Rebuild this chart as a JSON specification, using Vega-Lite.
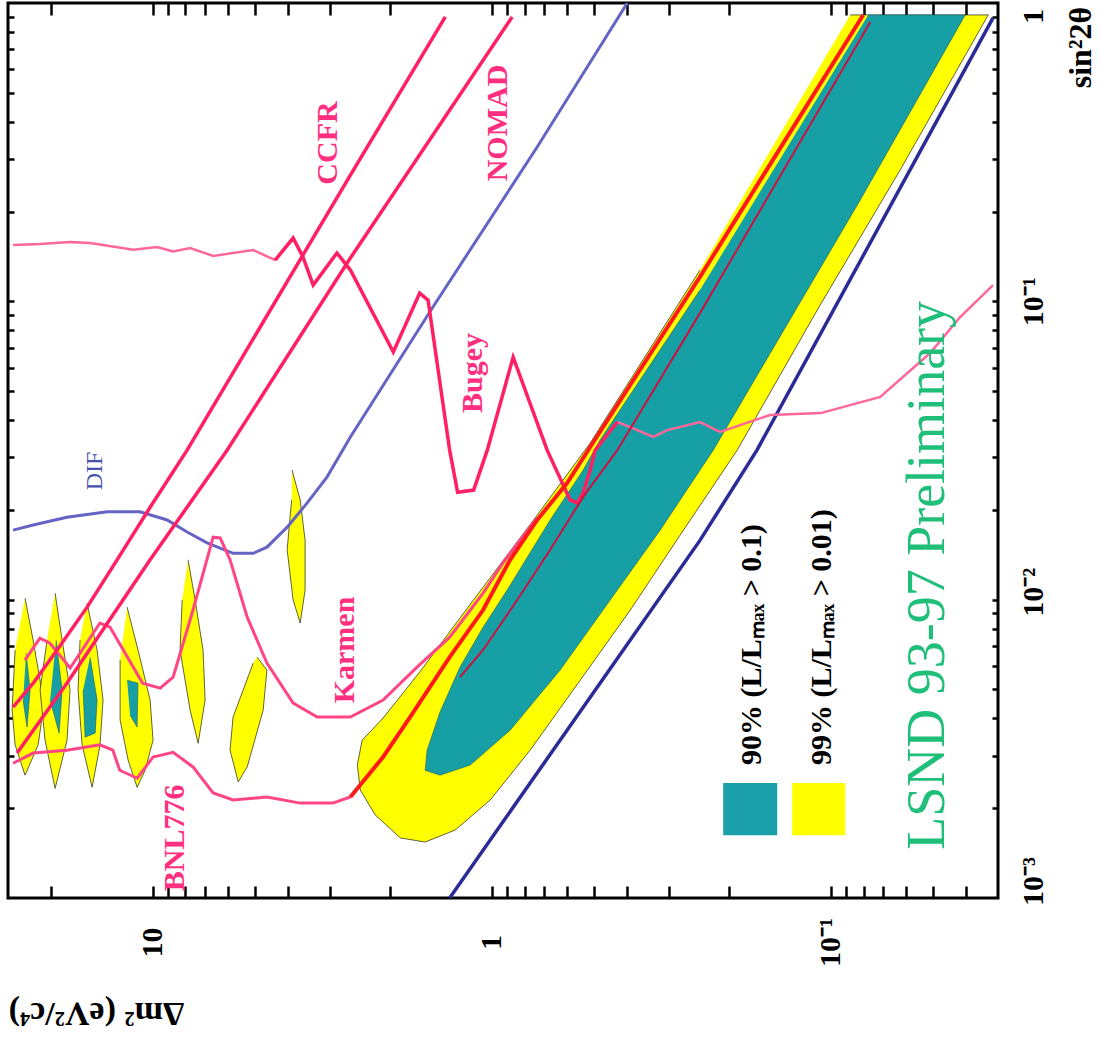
{
"$schema": "https://vega.github.io/schema/vega-lite/v6.json",
"width": 990, "height": 895,
"autosize": {"type": "none"},
"padding": {"left": 8, "top": 3, "right": 104, "bottom": 141},
"background": "white",
"config": {"view": {"stroke": "black", "strokeWidth": 3}},
"datasets": {
"regions": [
{"region":"band","kind":"y","i":1,"dm2":0.0876,"s":0.912},
{"region":"band","kind":"y","i":2,"dm2":0.0343,"s":0.912},
{"region":"band","kind":"y","i":3,"dm2":0.0624,"s":0.2755},
{"region":"band","kind":"y","i":4,"dm2":0.1074,"s":0.0972},
{"region":"band","kind":"y","i":5,"dm2":0.1887,"s":0.0317},
{"region":"band","kind":"y","i":6,"dm2":0.278,"s":0.01646},
{"region":"band","kind":"y","i":7,"dm2":0.390,"s":0.00923},
{"region":"band","kind":"y","i":8,"dm2":0.548,"s":0.00537},
{"region":"band","kind":"y","i":9,"dm2":0.770,"s":0.00313},
{"region":"band","kind":"y","i":10,"dm2":1.010,"s":0.00213},
{"region":"band","kind":"y","i":11,"dm2":1.281,"s":0.00169},
{"region":"band","kind":"y","i":12,"dm2":1.571,"s":0.00154},
{"region":"band","kind":"y","i":13,"dm2":1.86,"s":0.00159},
{"region":"band","kind":"y","i":14,"dm2":2.206,"s":0.0019},
{"region":"band","kind":"y","i":15,"dm2":2.44,"s":0.0023},
{"region":"band","kind":"y","i":16,"dm2":2.49,"s":0.00279},
{"region":"band","kind":"y","i":17,"dm2":2.41,"s":0.00338},
{"region":"band","kind":"y","i":18,"dm2":2.09,"s":0.00401},
{"region":"band","kind":"y","i":19,"dm2":1.63,"s":0.00572},
{"region":"band","kind":"y","i":20,"dm2":1.24,"s":0.00868},
{"region":"band","kind":"y","i":21,"dm2":0.900,"s":0.0141},
{"region":"band","kind":"y","i":22,"dm2":0.734,"s":0.0192},
{"region":"band","kind":"y","i":23,"dm2":0.512,"s":0.0335},
{"region":"band","kind":"y","i":24,"dm2":0.243,"s":0.1273},
{"region":"I1","kind":"y","i":1,"dm2":23.78,"s":0.01012},
{"region":"I1","kind":"y","i":2,"dm2":22.52,"s":0.00732},
{"region":"I1","kind":"y","i":3,"dm2":21.47,"s":0.00537},
{"region":"I1","kind":"y","i":4,"dm2":21.04,"s":0.00426},
{"region":"I1","kind":"y","i":5,"dm2":21.76,"s":0.00326},
{"region":"I1","kind":"y","i":6,"dm2":23.78,"s":0.00258},
{"region":"I1","kind":"y","i":7,"dm2":25.44,"s":0.00326},
{"region":"I1","kind":"y","i":8,"dm2":25.97,"s":0.00426},
{"region":"I1","kind":"y","i":9,"dm2":25.44,"s":0.00678},
{"region":"I2","kind":"y","i":1,"dm2":19.39,"s":0.01052},
{"region":"I2","kind":"y","i":2,"dm2":18.49,"s":0.00732},
{"region":"I2","kind":"y","i":3,"dm2":17.52,"s":0.00498},
{"region":"I2","kind":"y","i":4,"dm2":17.88,"s":0.00338},
{"region":"I2","kind":"y","i":5,"dm2":19.39,"s":0.00233},
{"region":"I2","kind":"y","i":6,"dm2":20.76,"s":0.00338},
{"region":"I2","kind":"y","i":7,"dm2":21.47,"s":0.00498},
{"region":"I2","kind":"y","i":8,"dm2":20.48,"s":0.00732},
{"region":"I3","kind":"y","i":1,"dm2":15.61,"s":0.00974},
{"region":"I3","kind":"y","i":2,"dm2":14.58,"s":0.00678},
{"region":"I3","kind":"y","i":3,"dm2":14.00,"s":0.00461},
{"region":"I3","kind":"y","i":4,"dm2":14.29,"s":0.00326},
{"region":"I3","kind":"y","i":5,"dm2":15.08,"s":0.00235},
{"region":"I3","kind":"y","i":6,"dm2":16.14,"s":0.00326},
{"region":"I3","kind":"y","i":7,"dm2":16.59,"s":0.00498},
{"region":"I3","kind":"y","i":8,"dm2":16.37,"s":0.00732},
{"region":"I4","kind":"y","i":1,"dm2":11.89,"s":0.00944},
{"region":"I4","kind":"y","i":2,"dm2":11.04,"s":0.00678},
{"region":"I4","kind":"y","i":3,"dm2":10.17,"s":0.00461},
{"region":"I4","kind":"y","i":4,"dm2":9.97,"s":0.00338},
{"region":"I4","kind":"y","i":5,"dm2":10.52,"s":0.00268},
{"region":"I4","kind":"y","i":6,"dm2":11.11,"s":0.00235},
{"region":"I4","kind":"y","i":7,"dm2":11.81,"s":0.0029},
{"region":"I4","kind":"y","i":8,"dm2":12.47,"s":0.00395},
{"region":"I4","kind":"y","i":9,"dm2":12.47,"s":0.00627},
{"region":"I5","kind":"y","i":1,"dm2":7.86,"s":0.0136},
{"region":"I5","kind":"y","i":2,"dm2":7.49,"s":0.00997},
{"region":"I5","kind":"y","i":3,"dm2":7.10,"s":0.00678},
{"region":"I5","kind":"y","i":4,"dm2":7.00,"s":0.00461},
{"region":"I5","kind":"y","i":5,"dm2":7.34,"s":0.0033},
{"region":"I5","kind":"y","i":6,"dm2":7.75,"s":0.00426},
{"region":"I5","kind":"y","i":7,"dm2":8.30,"s":0.00678},
{"region":"I5","kind":"y","i":8,"dm2":8.18,"s":0.00997},
{"region":"I6","kind":"y","i":1,"dm2":4.92,"s":0.00642},
{"region":"I6","kind":"y","i":2,"dm2":4.60,"s":0.00581},
{"region":"I6","kind":"y","i":3,"dm2":4.72,"s":0.00426},
{"region":"I6","kind":"y","i":4,"dm2":5.26,"s":0.00275},
{"region":"I6","kind":"y","i":5,"dm2":5.59,"s":0.00245},
{"region":"I6","kind":"y","i":6,"dm2":5.91,"s":0.00313},
{"region":"I6","kind":"y","i":7,"dm2":5.79,"s":0.00404},
{"region":"I6","kind":"y","i":8,"dm2":5.05,"s":0.00613},
{"region":"I7","kind":"y","i":1,"dm2":3.88,"s":0.0272},
{"region":"I7","kind":"y","i":2,"dm2":3.67,"s":0.0216},
{"region":"I7","kind":"y","i":3,"dm2":3.55,"s":0.0158},
{"region":"I7","kind":"y","i":4,"dm2":3.55,"s":0.01077},
{"region":"I7","kind":"y","i":5,"dm2":3.67,"s":0.00835},
{"region":"I7","kind":"y","i":6,"dm2":3.85,"s":0.00997},
{"region":"I7","kind":"y","i":7,"dm2":4.01,"s":0.0147},
{"region":"I7","kind":"y","i":8,"dm2":3.89,"s":0.0216},
{"region":"tband","kind":"t","i":1,"dm2":0.0775,"s":0.912},
{"region":"tband","kind":"t","i":2,"dm2":0.0401,"s":0.912},
{"region":"tband","kind":"t","i":3,"dm2":0.0818,"s":0.2186},
{"region":"tband","kind":"t","i":4,"dm2":0.222,"s":0.0317},
{"region":"tband","kind":"t","i":5,"dm2":0.3184,"s":0.0171},
{"region":"tband","kind":"t","i":6,"dm2":0.447,"s":0.00997},
{"region":"tband","kind":"t","i":7,"dm2":0.628,"s":0.00581},
{"region":"tband","kind":"t","i":8,"dm2":0.882,"s":0.00365},
{"region":"tband","kind":"t","i":9,"dm2":1.157,"s":0.00279},
{"region":"tband","kind":"t","i":10,"dm2":1.42,"s":0.00258},
{"region":"tband","kind":"t","i":11,"dm2":1.571,"s":0.00268},
{"region":"tband","kind":"t","i":12,"dm2":1.55,"s":0.00313},
{"region":"tband","kind":"t","i":13,"dm2":1.42,"s":0.0042},
{"region":"tband","kind":"t","i":14,"dm2":1.24,"s":0.00594},
{"region":"tband","kind":"t","i":15,"dm2":1.06,"s":0.00809},
{"region":"tband","kind":"t","i":16,"dm2":0.900,"s":0.01077},
{"region":"tband","kind":"t","i":17,"dm2":0.672,"s":0.0185},
{"region":"tband","kind":"t","i":18,"dm2":0.537,"s":0.0272},
{"region":"tband","kind":"t","i":19,"dm2":0.479,"s":0.0343},
{"region":"tband","kind":"t","i":20,"dm2":0.243,"s":0.1091},
{"region":"T1","kind":"t","i":1,"dm2":23.61,"s":0.00662},
{"region":"T1","kind":"t","i":2,"dm2":22.98,"s":0.00498},
{"region":"T1","kind":"t","i":3,"dm2":23.46,"s":0.00374},
{"region":"T1","kind":"t","i":4,"dm2":24.10,"s":0.00461},
{"region":"T2","kind":"t","i":1,"dm2":19.26,"s":0.00732},
{"region":"T2","kind":"t","i":2,"dm2":18.49,"s":0.00498},
{"region":"T2","kind":"t","i":3,"dm2":18.87,"s":0.00357},
{"region":"T2","kind":"t","i":4,"dm2":20.06,"s":0.00461},
{"region":"T3","kind":"t","i":1,"dm2":15.29,"s":0.00642},
{"region":"T3","kind":"t","i":2,"dm2":14.58,"s":0.00461},
{"region":"T3","kind":"t","i":3,"dm2":14.77,"s":0.00357},
{"region":"T3","kind":"t","i":4,"dm2":15.82,"s":0.00346},
{"region":"T3","kind":"t","i":5,"dm2":16.03,"s":0.00498},
{"region":"T4","kind":"t","i":1,"dm2":11.89,"s":0.00537},
{"region":"T4","kind":"t","i":2,"dm2":11.04,"s":0.00525},
{"region":"T4","kind":"t","i":3,"dm2":11.11,"s":0.00374},
{"region":"T4","kind":"t","i":4,"dm2":11.65,"s":0.0041}
],
"curves": [
{"curve":"Bugey flat","g":"light","i":0,"dm2":25.8,"s":0.1544},
{"curve":"Bugey flat","g":"light","i":1,"dm2":21.5,"s":0.1556},
{"curve":"Bugey flat","g":"light","i":2,"dm2":17.5,"s":0.1580},
{"curve":"Bugey flat","g":"light","i":3,"dm2":15.3,"s":0.1568},
{"curve":"Bugey flat","g":"light","i":4,"dm2":11.4,"s":0.1490},
{"curve":"Bugey flat","g":"light","i":5,"dm2":9.70,"s":0.1521},
{"curve":"Bugey flat","g":"light","i":6,"dm2":8.70,"s":0.1470},
{"curve":"Bugey flat","g":"light","i":7,"dm2":7.75,"s":0.1509},
{"curve":"Bugey flat","g":"light","i":8,"dm2":6.63,"s":0.1420},
{"curve":"Bugey flat","g":"light","i":9,"dm2":5.05,"s":0.1486},
{"curve":"Bugey flat","g":"light","i":10,"dm2":4.35,"s":0.1375},
{"curve":"Bugey","g":"red","i":10,"dm2":4.35,"s":0.1375},
{"curve":"Bugey","g":"red","i":11,"dm2":3.85,"s":0.163},
{"curve":"Bugey","g":"red","i":12,"dm2":3.60,"s":0.1407},
{"curve":"Bugey","g":"red","i":13,"dm2":3.36,"s":0.1134},
{"curve":"Bugey","g":"red","i":14,"dm2":2.86,"s":0.1452},
{"curve":"Bugey","g":"red","i":15,"dm2":2.61,"s":0.1273},
{"curve":"Bugey","g":"red","i":16,"dm2":1.95,"s":0.0676},
{"curve":"Bugey","g":"red","i":17,"dm2":1.63,"s":0.1066},
{"curve":"Bugey","g":"red","i":18,"dm2":1.54,"s":0.1010},
{"curve":"Bugey","g":"red","i":19,"dm2":1.33,"s":0.0317},
{"curve":"Bugey","g":"red","i":20,"dm2":1.26,"s":0.0229},
{"curve":"Bugey","g":"red","i":21,"dm2":1.13,"s":0.0233},
{"curve":"Bugey","g":"red","i":22,"dm2":1.03,"s":0.0317},
{"curve":"Bugey","g":"red","i":23,"dm2":0.864,"s":0.0650},
{"curve":"Bugey","g":"red","i":24,"dm2":0.686,"s":0.0317},
{"curve":"Bugey","g":"red","i":25,"dm2":0.587,"s":0.0216},
{"curve":"Bugey","g":"red","i":26,"dm2":0.559,"s":0.0211},
{"curve":"Bugey","g":"red","i":27,"dm2":0.537,"s":0.0228},
{"curve":"Bugey","g":"red","i":28,"dm2":0.512,"s":0.0272},
{"curve":"Bugey","g":"red","i":29,"dm2":0.495,"s":0.0317},
{"curve":"Bugey","g":"red","i":30,"dm2":0.426,"s":0.0394},
{"curve":"Bugey tail","g":"light","i":30,"dm2":0.426,"s":0.0394},
{"curve":"Bugey tail","g":"light","i":31,"dm2":0.390,"s":0.0379},
{"curve":"Bugey tail","g":"light","i":32,"dm2":0.334,"s":0.0351},
{"curve":"Bugey tail","g":"light","i":33,"dm2":0.303,"s":0.0370},
{"curve":"Bugey tail","g":"light","i":34,"dm2":0.243,"s":0.0394},
{"curve":"Bugey tail","g":"light","i":35,"dm2":0.212,"s":0.0365},
{"curve":"Bugey tail","g":"light","i":36,"dm2":0.151,"s":0.0416},
{"curve":"Bugey tail","g":"light","i":37,"dm2":0.107,"s":0.0422},
{"curve":"Bugey tail","g":"light","i":38,"dm2":0.0714,"s":0.0478},
{"curve":"Bugey tail","g":"light","i":39,"dm2":0.0509,"s":0.0671},
{"curve":"Bugey tail","g":"light","i":40,"dm2":0.0415,"s":0.0886},
{"curve":"Bugey tail","g":"light","i":41,"dm2":0.0332,"s":0.1134},
{"curve":"BNL776 flat","g":"pink","i":0,"dm2":25.8,"s":0.00283},
{"curve":"BNL776 flat","g":"pink","i":1,"dm2":22.5,"s":0.00306},
{"curve":"BNL776 flat","g":"pink","i":2,"dm2":17.9,"s":0.00313},
{"curve":"BNL776 flat","g":"pink","i":3,"dm2":14.3,"s":0.00326},
{"curve":"BNL776 flat","g":"pink","i":4,"dm2":13.1,"s":0.00313},
{"curve":"BNL776 flat","g":"pink","i":5,"dm2":12.5,"s":0.00268},
{"curve":"BNL776 flat","g":"pink","i":6,"dm2":11.1,"s":0.00252},
{"curve":"BNL776 flat","g":"pink","i":7,"dm2":9.97,"s":0.00297},
{"curve":"BNL776 flat","g":"pink","i":8,"dm2":8.70,"s":0.00308},
{"curve":"BNL776 flat","g":"pink","i":9,"dm2":7.60,"s":0.00275},
{"curve":"BNL776 flat","g":"pink","i":10,"dm2":6.63,"s":0.00225},
{"curve":"BNL776 flat","g":"pink","i":11,"dm2":5.79,"s":0.00213},
{"curve":"BNL776 flat","g":"pink","i":12,"dm2":4.60,"s":0.00218},
{"curve":"BNL776 flat","g":"pink","i":13,"dm2":3.67,"s":0.00208},
{"curve":"BNL776 flat","g":"pink","i":14,"dm2":2.94,"s":0.00208},
{"curve":"BNL776 flat","g":"pink","i":15,"dm2":2.61,"s":0.00218},
{"curve":"Karmen","g":"pink","i":0,"dm2":23.8,"s":0.00627},
{"curve":"Karmen","g":"pink","i":1,"dm2":21.5,"s":0.00743},
{"curve":"Karmen","g":"pink","i":2,"dm2":20.1,"s":0.00715},
{"curve":"Karmen","g":"pink","i":3,"dm2":17.5,"s":0.0059},
{"curve":"Karmen","g":"pink","i":4,"dm2":14.3,"s":0.00835},
{"curve":"Karmen","g":"pink","i":5,"dm2":13.35,"s":0.00809},
{"curve":"Karmen","g":"pink","i":6,"dm2":10.7,"s":0.00525},
{"curve":"Karmen","g":"pink","i":7,"dm2":9.50,"s":0.00505},
{"curve":"Karmen","g":"pink","i":8,"dm2":8.70,"s":0.0055},
{"curve":"Karmen","g":"pink","i":9,"dm2":7.60,"s":0.00923},
{"curve":"Karmen","g":"pink","i":10,"dm2":6.63,"s":0.0162},
{"curve":"Karmen","g":"pink","i":11,"dm2":6.32,"s":0.0161},
{"curve":"Karmen","g":"pink","i":12,"dm2":5.91,"s":0.0136},
{"curve":"Karmen","g":"pink","i":13,"dm2":5.26,"s":0.00874},
{"curve":"Karmen","g":"pink","i":14,"dm2":4.60,"s":0.00613},
{"curve":"Karmen","g":"pink","i":15,"dm2":3.85,"s":0.0045},
{"curve":"Karmen","g":"pink","i":16,"dm2":3.27,"s":0.00404},
{"curve":"Karmen","g":"pink","i":17,"dm2":2.61,"s":0.00404},
{"curve":"Karmen","g":"pink","i":18,"dm2":2.09,"s":0.00461},
{"curve":"Karmen","g":"pink","i":19,"dm2":1.66,"s":0.00594},
{"curve":"Karmen","g":"pink","i":20,"dm2":1.33,"s":0.00749},
{"curve":"Karmen","g":"pink","i":21,"dm2":1.06,"s":0.01052},
{"curve":"Karmen","g":"pink","i":22,"dm2":0.925,"s":0.0133},
{"curve":"Karmen","g":"pink","i":23,"dm2":0.734,"s":0.0188},
{"curve":"CCFR","g":"red","i":0,"dm2":1.37,"s":0.898},
{"curve":"CCFR","g":"red","i":1,"dm2":2.61,"s":0.265},
{"curve":"CCFR","g":"red","i":2,"dm2":7.91,"s":0.0317},
{"curve":"CCFR","g":"red","i":3,"dm2":10.17,"s":0.0204},
{"curve":"CCFR","g":"red","i":4,"dm2":12.73,"s":0.0136},
{"curve":"CCFR","g":"red","i":5,"dm2":15.6,"s":0.00944},
{"curve":"CCFR","g":"red","i":6,"dm2":19.13,"s":0.00678},
{"curve":"CCFR","g":"red","i":7,"dm2":22.5,"s":0.00525},
{"curve":"CCFR","g":"red","i":8,"dm2":25.8,"s":0.00436},
{"curve":"NOMAD","g":"red","i":0,"dm2":0.870,"s":0.898},
{"curve":"NOMAD","g":"red","i":1,"dm2":2.61,"s":0.1397},
{"curve":"NOMAD","g":"red","i":2,"dm2":6.03,"s":0.0317},
{"curve":"NOMAD","g":"red","i":3,"dm2":10.17,"s":0.0136},
{"curve":"NOMAD","g":"red","i":4,"dm2":17.9,"s":0.00525},
{"curve":"NOMAD","g":"red","i":5,"dm2":25.1,"s":0.00306},
{"curve":"BNL776","g":"thick","i":0,"dm2":2.61,"s":0.00218},
{"curve":"BNL776","g":"thick","i":1,"dm2":2.09,"s":0.00297},
{"curve":"BNL776","g":"thick","i":2,"dm2":1.74,"s":0.00404},
{"curve":"BNL776","g":"thick","i":3,"dm2":1.33,"s":0.00642},
{"curve":"BNL776","g":"thick","i":4,"dm2":1.06,"s":0.00923},
{"curve":"BNL776","g":"thick","i":5,"dm2":0.882,"s":0.0136},
{"curve":"BNL776","g":"thick","i":6,"dm2":0.734,"s":0.0185},
{"curve":"BNL776","g":"thick","i":7,"dm2":0.599,"s":0.0246},
{"curve":"BNL776","g":"thick","i":8,"dm2":0.512,"s":0.0325},
{"curve":"BNL776","g":"thick","i":9,"dm2":0.243,"s":0.1207},
{"curve":"BNL776","g":"thick","i":10,"dm2":0.0802,"s":0.912},
{"curve":"inner","g":"inner","i":0,"dm2":0.0764,"s":0.864},
{"curve":"inner","g":"inner","i":1,"dm2":0.243,"s":0.0913},
{"curve":"inner","g":"inner","i":2,"dm2":0.426,"s":0.0317},
{"curve":"inner","g":"inner","i":3,"dm2":0.537,"s":0.0221},
{"curve":"inner","g":"inner","i":4,"dm2":0.672,"s":0.0147},
{"curve":"inner","g":"inner","i":5,"dm2":0.841,"s":0.00997},
{"curve":"inner","g":"inner","i":6,"dm2":1.06,"s":0.00678},
{"curve":"inner","g":"inner","i":7,"dm2":1.24,"s":0.0055},
{"curve":"DIF","g":"dif","i":0,"dm2":25.8,"s":0.0171},
{"curve":"DIF","g":"dif","i":1,"dm2":22.5,"s":0.0178},
{"curve":"DIF","g":"dif","i":2,"dm2":17.9,"s":0.0189},
{"curve":"DIF","g":"dif","i":3,"dm2":13.6,"s":0.0197},
{"curve":"DIF","g":"dif","i":4,"dm2":10.9,"s":0.0197},
{"curve":"DIF","g":"dif","i":5,"dm2":9.06,"s":0.0185},
{"curve":"DIF","g":"dif","i":6,"dm2":7.91,"s":0.01685},
{"curve":"DIF","g":"dif","i":7,"dm2":6.91,"s":0.0155},
{"curve":"DIF","g":"dif","i":8,"dm2":5.79,"s":0.0143},
{"curve":"DIF","g":"dif","i":9,"dm2":5.05,"s":0.0143},
{"curve":"DIF","g":"dif","i":10,"dm2":4.60,"s":0.0150},
{"curve":"DIF","g":"dif","i":11,"dm2":4.01,"s":0.0175},
{"curve":"DIF","g":"dif","i":12,"dm2":3.50,"s":0.0211},
{"curve":"DIF","g":"dif","i":13,"dm2":3.06,"s":0.02576},
{"curve":"DIF","g":"dif","i":14,"dm2":2.61,"s":0.0351},
{"curve":"DIF","g":"dif","i":15,"dm2":1.49,"s":0.0957},
{"curve":"DIF","g":"dif","i":16,"dm2":0.734,"s":0.329},
{"curve":"DIF","g":"dif","i":17,"dm2":0.398,"s":1.0},
{"curve":"DIF edge","g":"blue","i":0,"dm2":0.0332,"s":0.891},
{"curve":"DIF edge","g":"blue","i":1,"dm2":0.165,"s":0.0317},
{"curve":"DIF edge","g":"blue","i":2,"dm2":0.243,"s":0.0158},
{"curve":"DIF edge","g":"blue","i":3,"dm2":0.479,"s":0.00525},
{"curve":"DIF edge","g":"blue","i":4,"dm2":1.33,"s":0.001}
],
"labels": [
{"g":"pink","label":"CCFR","dm2":3.035,"s":0.3394},
{"g":"pink","label":"NOMAD","dm2":0.957,"s":0.396},
{"g":"pink","label":"Bugey","dm2":1.134,"s":0.0575},
{"g":"pink","label":"Karmen","dm2":2.71,"s":0.00678},
{"g":"pink","label":"BNL776","dm2":8.58,"s":0.00159},
{"g":"blue","label":"DIF","dm2":14.8,"s":0.027},
{"g":"legend","label":"90% (L/Lₘₐₓ > 0.1)","dm2":0.1704,"s":0.00279},
{"g":"legend","label":"99% (L/Lₘₐₓ > 0.01)","dm2":0.1059,"s":0.00279},
{"g":"title","label":"LSND 93-97 Preliminary","dm2":0.0516,"s":0.00145}
],
"keys": [
{"kind":"90%","dm2a":0.2075,"dm2b":0.1438,"sa":0.001624,"sb":0.002428},
{"kind":"99%","dm2a":0.1299,"dm2b":0.0906,"sa":0.001624,"sb":0.002428}
]
},
"encoding": {
"x": {"field": "dm2", "type": "quantitative", "scale": {"type": "log", "domain": [0.0321, 26.7], "reverse": true, "nice": false}, "axis": null},
"y": {"field": "s", "type": "quantitative", "scale": {"type": "log", "domain": [0.001, 1], "nice": false}, "axis": null}
},
"layer": [
{
"data": {"name": "regions"},
"transform": [{"filter": "datum.kind == 'y'"}],
"mark": {"type": "line", "fill": "#ffff00", "stroke": "#3a3a2a", "strokeWidth": 0.8, "clip": true},
"encoding": {
"x": {"field": "dm2", "type": "quantitative", "scale": {"type": "log", "domain": [0.0321, 26.7], "reverse": true, "nice": false},
"axis": {"orient": "bottom", "values": [0.1, 1, 10], "labelExpr": "datum.value == 10 ? '10' : datum.value == 1 ? '1' : '10⁻¹'", "ticks": false, "domain": false, "grid": false, "labelFont": "Liberation Serif", "labelFontWeight": "bold", "labelFontSize": 30, "labelColor": "black", "labelAngle": 270, "labelAlign": "center", "labelBaseline": "middle", "labelPadding": 44, "labelFlush": false, "labelOverlap": false, "title": "Δm² (eV²/c⁴)", "titleFont": "Liberation Serif", "titleFontWeight": "bold", "titleFontSize": 34, "titleColor": "black", "titleAngle": 180, "titleX": 88, "titleY": 114, "titleAlign": "center", "titleBaseline": "middle"}},
"y": {"field": "s", "type": "quantitative", "scale": {"type": "log", "domain": [0.001, 1], "nice": false},
"axis": {"orient": "right", "values": [0.001, 0.01, 0.1, 1], "labelExpr": "datum.value == 1 ? '1' : datum.value == 0.1 ? '10⁻¹' : datum.value == 0.01 ? '10⁻²' : '10⁻³'", "ticks": false, "domain": false, "grid": false, "labelFont": "Liberation Serif", "labelFontWeight": "bold", "labelFontSize": 30, "labelColor": "black", "labelAngle": 270, "labelAlign": "center", "labelBaseline": "middle", "labelPadding": 35, "labelFlush": false, "labelOverlap": false, "labelOffset": {"condition": [{"test": "datum.value == 1", "value": 13}, {"test": "datum.value == 0.001", "value": -17}, {"test": "datum.value == 0.01", "value": -8}], "value": 0}, "title": "sin²2θ", "titleFont": "Liberation Serif", "titleFontWeight": "bold", "titleFontSize": 32, "titleColor": "black", "titleAngle": 270, "titleX": 82, "titleY": 44, "titleAlign": "center", "titleBaseline": "middle"}},
"detail": {"field": "region"},
"order": {"field": "i", "type": "quantitative"}
}
},
{
"data": {"name": "regions"},
"transform": [{"filter": "datum.kind == 't'"}],
"mark": {"type": "line", "fill": "#16a0a6", "stroke": "#245a5a", "strokeWidth": 0.6, "clip": true},
"encoding": {
"x": {"field": "dm2", "type": "quantitative", "scale": {"type": "log", "domain": [0.0321, 26.7], "reverse": true, "nice": false},
"axis": {"orient": "bottom", "values": [0.04,0.05,0.06,0.07,0.08,0.09,0.1,0.2,0.3,0.4,0.5,0.6,0.7,0.8,0.9,1,2,3,4,5,6,7,8,9,10,20], "labels": false, "domain": false, "grid": false, "ticks": true, "tickSize": -12, "tickWidth": 2.5, "tickColor": "black", "title": null}},
"y": {"field": "s", "type": "quantitative", "scale": {"type": "log", "domain": [0.001, 1], "nice": false},
"axis": {"orient": "right", "values": [0.002,0.003,0.004,0.005,0.006,0.007,0.008,0.009,0.01,0.02,0.03,0.04,0.05,0.06,0.07,0.08,0.09,0.1,0.2,0.3,0.4,0.5,0.6,0.7,0.8,0.9], "labels": false, "domain": false, "grid": false, "ticks": true, "tickSize": -6, "tickWidth": 2.5, "tickColor": "black", "title": null}},
"detail": {"field": "region"},
"order": {"field": "i", "type": "quantitative"}
}
},
{
"data": {"name": "curves"},
"transform": [{"filter": "datum.g == 'blue'"}],
"mark": {"type": "line", "color": "#2b2b98", "strokeWidth": 3.5, "clip": true},
"encoding": {
"x": {"field": "dm2", "type": "quantitative", "scale": {"type": "log", "domain": [0.0321, 26.7], "reverse": true, "nice": false},
"axis": {"orient": "top", "values": [0.04,0.05,0.06,0.07,0.08,0.09,0.1,0.2,0.3,0.4,0.5,0.6,0.7,0.8,0.9,1,2,3,4,5,6,7,8,9,10,20], "labels": false, "domain": false, "grid": false, "ticks": true, "tickSize": -12, "tickWidth": 2.5, "tickColor": "black", "title": null}},
"y": {"field": "s", "type": "quantitative", "scale": {"type": "log", "domain": [0.001, 1], "nice": false},
"axis": {"orient": "left", "values": [0.002,0.003,0.004,0.005,0.006,0.007,0.008,0.009,0.01,0.02,0.03,0.04,0.05,0.06,0.07,0.08,0.09,0.1,0.2,0.3,0.4,0.5,0.6,0.7,0.8,0.9], "labels": false, "domain": false, "grid": false, "ticks": true, "tickSize": -6, "tickWidth": 2.5, "tickColor": "black", "title": null}},
"detail": {"field": "curve"},
"order": {"field": "i", "type": "quantitative"}
}
},
{
"data": {"name": "curves"},
"transform": [{"filter": "datum.g == 'dif'"}],
"mark": {"type": "line", "color": "#6563c4", "strokeWidth": 3, "clip": true},
"encoding": {"detail": {"field": "curve"}, "order": {"field": "i", "type": "quantitative"}}
},
{
"data": {"name": "curves"},
"transform": [{"filter": "datum.g == 'light'"}],
"mark": {"type": "line", "color": "#ff679c", "strokeWidth": 2.5, "clip": true},
"encoding": {"detail": {"field": "curve"}, "order": {"field": "i", "type": "quantitative"}}
},
{
"data": {"name": "curves"},
"transform": [{"filter": "datum.g == 'pink'"}],
"mark": {"type": "line", "color": "#ff4585", "strokeWidth": 3, "clip": true},
"encoding": {"detail": {"field": "curve"}, "order": {"field": "i", "type": "quantitative"}}
},
{
"data": {"name": "curves"},
"transform": [{"filter": "datum.g == 'red'"}],
"mark": {"type": "line", "color": "#ff1f62", "strokeWidth": 3.5, "clip": true},
"encoding": {"detail": {"field": "curve"}, "order": {"field": "i", "type": "quantitative"}}
},
{
"data": {"name": "curves"},
"transform": [{"filter": "datum.g == 'thick'"}],
"mark": {"type": "line", "color": "#ff1a1a", "strokeWidth": 4, "clip": true},
"encoding": {"detail": {"field": "curve"}, "order": {"field": "i", "type": "quantitative"}}
},
{
"data": {"name": "curves"},
"transform": [{"filter": "datum.g == 'inner'"}],
"mark": {"type": "line", "color": "#cc1040", "strokeWidth": 2, "clip": true},
"encoding": {"detail": {"field": "curve"}, "order": {"field": "i", "type": "quantitative"}}
},
{
"data": {"name": "keys"},
"mark": {"type": "rect", "stroke": null},
"encoding": {
"x": {"field": "dm2a", "type": "quantitative", "axis": null},
"x2": {"field": "dm2b"},
"y": {"field": "sa", "type": "quantitative", "axis": null},
"y2": {"field": "sb"},
"color": {"field": "kind", "type": "nominal", "scale": {"domain": ["90%", "99%"], "range": ["#1a9ea8", "#ffff00"]}, "legend": null}
}
},
{
"data": {"name": "labels"},
"transform": [{"filter": "datum.g == 'pink'"}],
"mark": {"type": "text", "angle": 270, "align": "center", "baseline": "middle", "font": "Liberation Serif", "fontWeight": "bold", "fontSize": 30, "color": "#ff2f80"},
"encoding": {"text": {"field": "label"}}
},
{
"data": {"name": "labels"},
"transform": [{"filter": "datum.g == 'blue'"}],
"mark": {"type": "text", "angle": 270, "align": "center", "baseline": "middle", "font": "Liberation Serif", "fontSize": 24, "color": "#4650b0"},
"encoding": {"text": {"field": "label"}}
},
{
"data": {"name": "labels"},
"transform": [{"filter": "datum.g == 'legend'"}],
"mark": {"type": "text", "angle": 270, "align": "left", "baseline": "middle", "font": "Liberation Serif", "fontWeight": "bold", "fontSize": 30, "color": "black"},
"encoding": {"text": {"field": "label"}}
},
{
"data": {"name": "labels"},
"transform": [{"filter": "datum.g == 'title'"}],
"mark": {"type": "text", "angle": 270, "align": "left", "baseline": "middle", "font": "Liberation Serif", "fontSize": 54, "color": "#1fbf7a"},
"encoding": {"text": {"field": "label"}}
}
],
"resolve": {"axis": {"x": "independent", "y": "independent"}}
}
